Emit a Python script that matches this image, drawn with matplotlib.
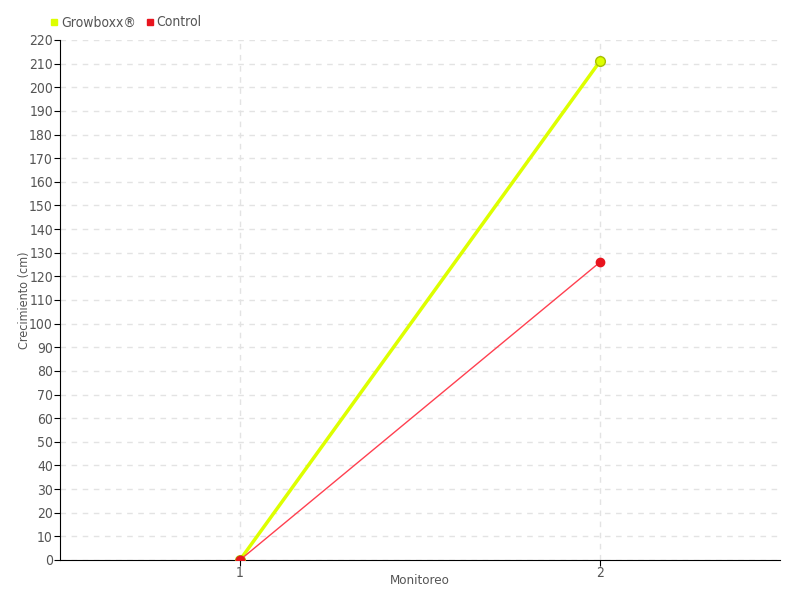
import numpy as np
import matplotlib.pyplot as plt

monitoreo = [1, 2]
growboxx = [0, 211]
control = [0, 126]
y_ticks = list(range(0, 221, 10))

plt.rcParams['font.family'] = ['DejaVu Sans']
plt.rcParams['font.stretch'] = 'condensed'
txt = '#555555'

fig = plt.figure(figsize=(8, 6), dpi=100)
ax = fig.add_axes([0.075, 0.0667, 0.9, 0.8667])

ax.plot(monitoreo, growboxx, color='#ddff00', lw=2.5, marker='o', ms=7,
        mfc='#ddff00', mec='#a8c000', mew=1, zorder=3, label='Growboxx®')
ax.plot(monitoreo, control, color='#ff4050', lw=1, marker='o', ms=6,
        mfc='#e8141e', mec='#e8141e', zorder=4, label='Control')

ax.set_xlim(0.5, 2.5)
ax.set_ylim(0, 220)
ax.set_xticks(monitoreo)
ax.set_yticks(y_ticks)
ax.tick_params(axis='both', labelsize=10, colors=txt, length=4, pad=1)
ax.tick_params(axis='x', pad=0)
ax.tick_params(axis='both', color='black')
ax.grid(True, color='#e3e3e3', ls=(0, (4, 4)), lw=1)
for s in ['top', 'right']:
    ax.spines[s].set_visible(False)
ax.set_xlabel('Monitoreo', color=txt, fontsize=9.5)
ax.set_ylabel('Crecimiento (cm)', color=txt, fontsize=9)
ax.xaxis.set_label_coords(0.5, -0.04, transform=ax.transAxes)
ax.yaxis.set_label_coords(-0.049, 0.5, transform=ax.transAxes)
ax.xaxis.label.set_va('center')
ax.yaxis.label.set_va('center')

h1 = plt.Line2D([], [], ls='', marker='s', ms=5, color='#ddff00')
h2 = plt.Line2D([], [], ls='', marker='s', ms=5, color='#e8141e')
leg = fig.legend([h1, h2], ['Growboxx®', 'Control'], loc='upper left',
                 bbox_to_anchor=(0.045, 0.995), ncol=2, frameon=False,
                 fontsize=10, handletextpad=0.1, columnspacing=0.6,
                 handlelength=0.8)
for t in leg.get_texts():
    t.set_color(txt)

fig.savefig('out.png', dpi=100)
